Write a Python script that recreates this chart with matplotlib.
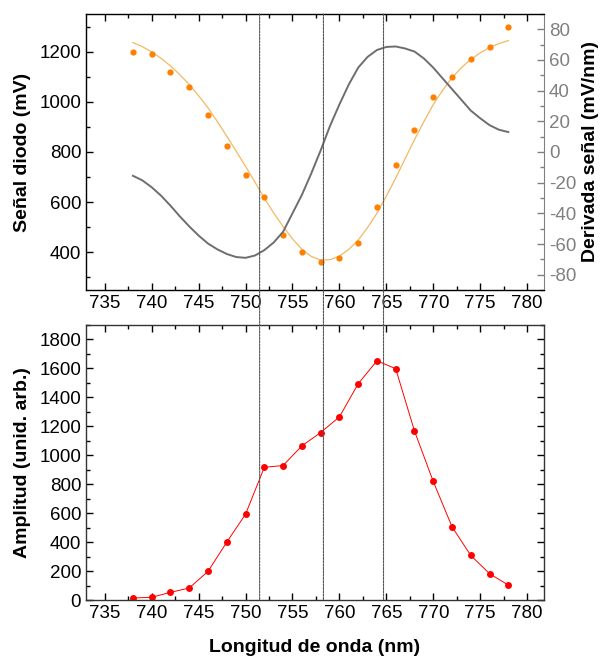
import numpy as np
import matplotlib
matplotlib.use('Agg')
import matplotlib.pyplot as plt
from matplotlib.patches import ConnectionPatch
from matplotlib.ticker import MultipleLocator

plt.rcParams['font.family'] = ['Liberation Sans', 'DejaVu Sans']
plt.rcParams['axes.unicode_minus'] = False

# measured points (top panel, diode signal)
wl = [738, 740, 742, 744, 746, 748, 750, 752, 754, 756, 758,
      760, 762, 764, 766, 768, 770, 772, 774, 776, 778]
senal = [1200, 1189, 1120, 1059, 947, 823, 707, 619, 471, 403, 361,
         379, 439, 579, 747, 889, 1019, 1099, 1169, 1219, 1300]

# fitted curve read every 1 nm
wl_fit = list(range(738, 779))
senal_fit = [1236, 1220, 1199, 1173, 1143, 1108, 1069, 1024, 976, 921,
             863, 803, 743, 680, 616, 557, 503, 454, 412, 384,
             369, 371, 385, 412, 449, 499, 556, 624, 696, 773,
             849, 921, 989, 1046, 1096, 1136, 1169, 1195, 1216, 1232, 1244]

# derivative of the signal (right axis)
derivada = [-15.5, -18.5, -23, -28.5, -35, -42, -48.5, -54.5, -59.7, -63.5,
            -66.5, -68.5, -69, -67.5, -64, -59, -52, -40, -28, -14,
            1, 17, 31, 44, 55, 62, 66.5, 68.5, 68.8, 67.5,
            65.5, 61, 55, 48, 41, 34, 27, 22, 17.5, 14.5, 13]

# amplitude (bottom panel)
amplitud = [14, 19, 53, 83, 198, 400, 593, 917, 929, 1065, 1157,
            1265, 1494, 1653, 1598, 1168, 819, 506, 308, 182, 103]

lineas = [751.5, 758.3, 764.7]

fig = plt.figure(figsize=(6.07, 6.59), dpi=100)
ax1 = fig.add_axes([0.1417, 0.5599, 0.7545, 0.4189])
ax2 = fig.add_axes([0.1417, 0.0895, 0.7545, 0.4173])
ax1b = ax1.twinx()

ax1.plot(wl_fit, senal_fit, color='#f5b860', lw=0.9, zorder=2)
ax1.plot(wl, senal, 'o', color='#ff8000', ms=4.5, mec='none', zorder=3)
ax1b.plot(wl_fit, derivada, color='#6e6e6e', lw=1.4)

ax2.plot(wl, amplitud, '-o', color='#ff0000', lw=0.7, ms=5, mec='none')

for ax in (ax1, ax2):
    ax.set_xlim(733, 781.8)
    ax.xaxis.set_minor_locator(MultipleLocator(2.5))
    ax.tick_params(which='both', direction='in', top=True, labelsize=13.5, width=1)
    ax.tick_params(which='major', length=5)
    ax.tick_params(which='minor', length=3)
    ax.set_xticks(range(735, 781, 5))

ax1.set_ylim(250, 1350)
ax1.yaxis.set_minor_locator(MultipleLocator(100))
ax1.set_yticks(range(400, 1201, 200))
ax1.tick_params(axis='y', right=False, which='both')
ax1.set_ylabel('Señal diodo (mV)', fontsize=14, fontweight='bold', labelpad=6)

ax1b.set_ylim(-90, 90)
ax1b.yaxis.set_minor_locator(MultipleLocator(10))
ax1b.set_yticks(range(-80, 81, 20))
ax1b.tick_params(which='both', direction='in', colors='#808080', labelsize=13.5, width=1)
ax1b.tick_params(which='major', length=5)
ax1b.tick_params(which='minor', length=3)
ax1b.spines['right'].set_color('#808080')
ax1b.set_ylabel('Derivada señal (mV/nm)', fontsize=14, fontweight='bold', labelpad=4)

ax2.set_ylim(0, 1900)
ax2.yaxis.set_minor_locator(MultipleLocator(100))
ax2.set_yticks(range(0, 1801, 200))
ax2.tick_params(axis='y', right=True, which='both', direction='in')
ax2.set_ylabel('Amplitud (unid. arb.)', fontsize=14, fontweight='bold', labelpad=6)
ax2.set_xlabel('Longitud de onda (nm)', fontsize=14, fontweight='bold', labelpad=12)

for ax in (ax1, ax2):
    for s in ax.spines.values():
        s.set_linewidth(1.0)
        s.set_color('#333333')
ax1.spines['right'].set_visible(False)

# vertical dashed lines crossing both panels
for x in lineas:
    con = ConnectionPatch(xyA=(x, 1350), coordsA=ax1.transData,
                          xyB=(x, 0), coordsB=ax2.transData,
                          color='#555555', lw=0.8, ls=(0, (2, 1)), zorder=5)
    fig.add_artist(con)

fig.savefig('out.png', dpi=100)
